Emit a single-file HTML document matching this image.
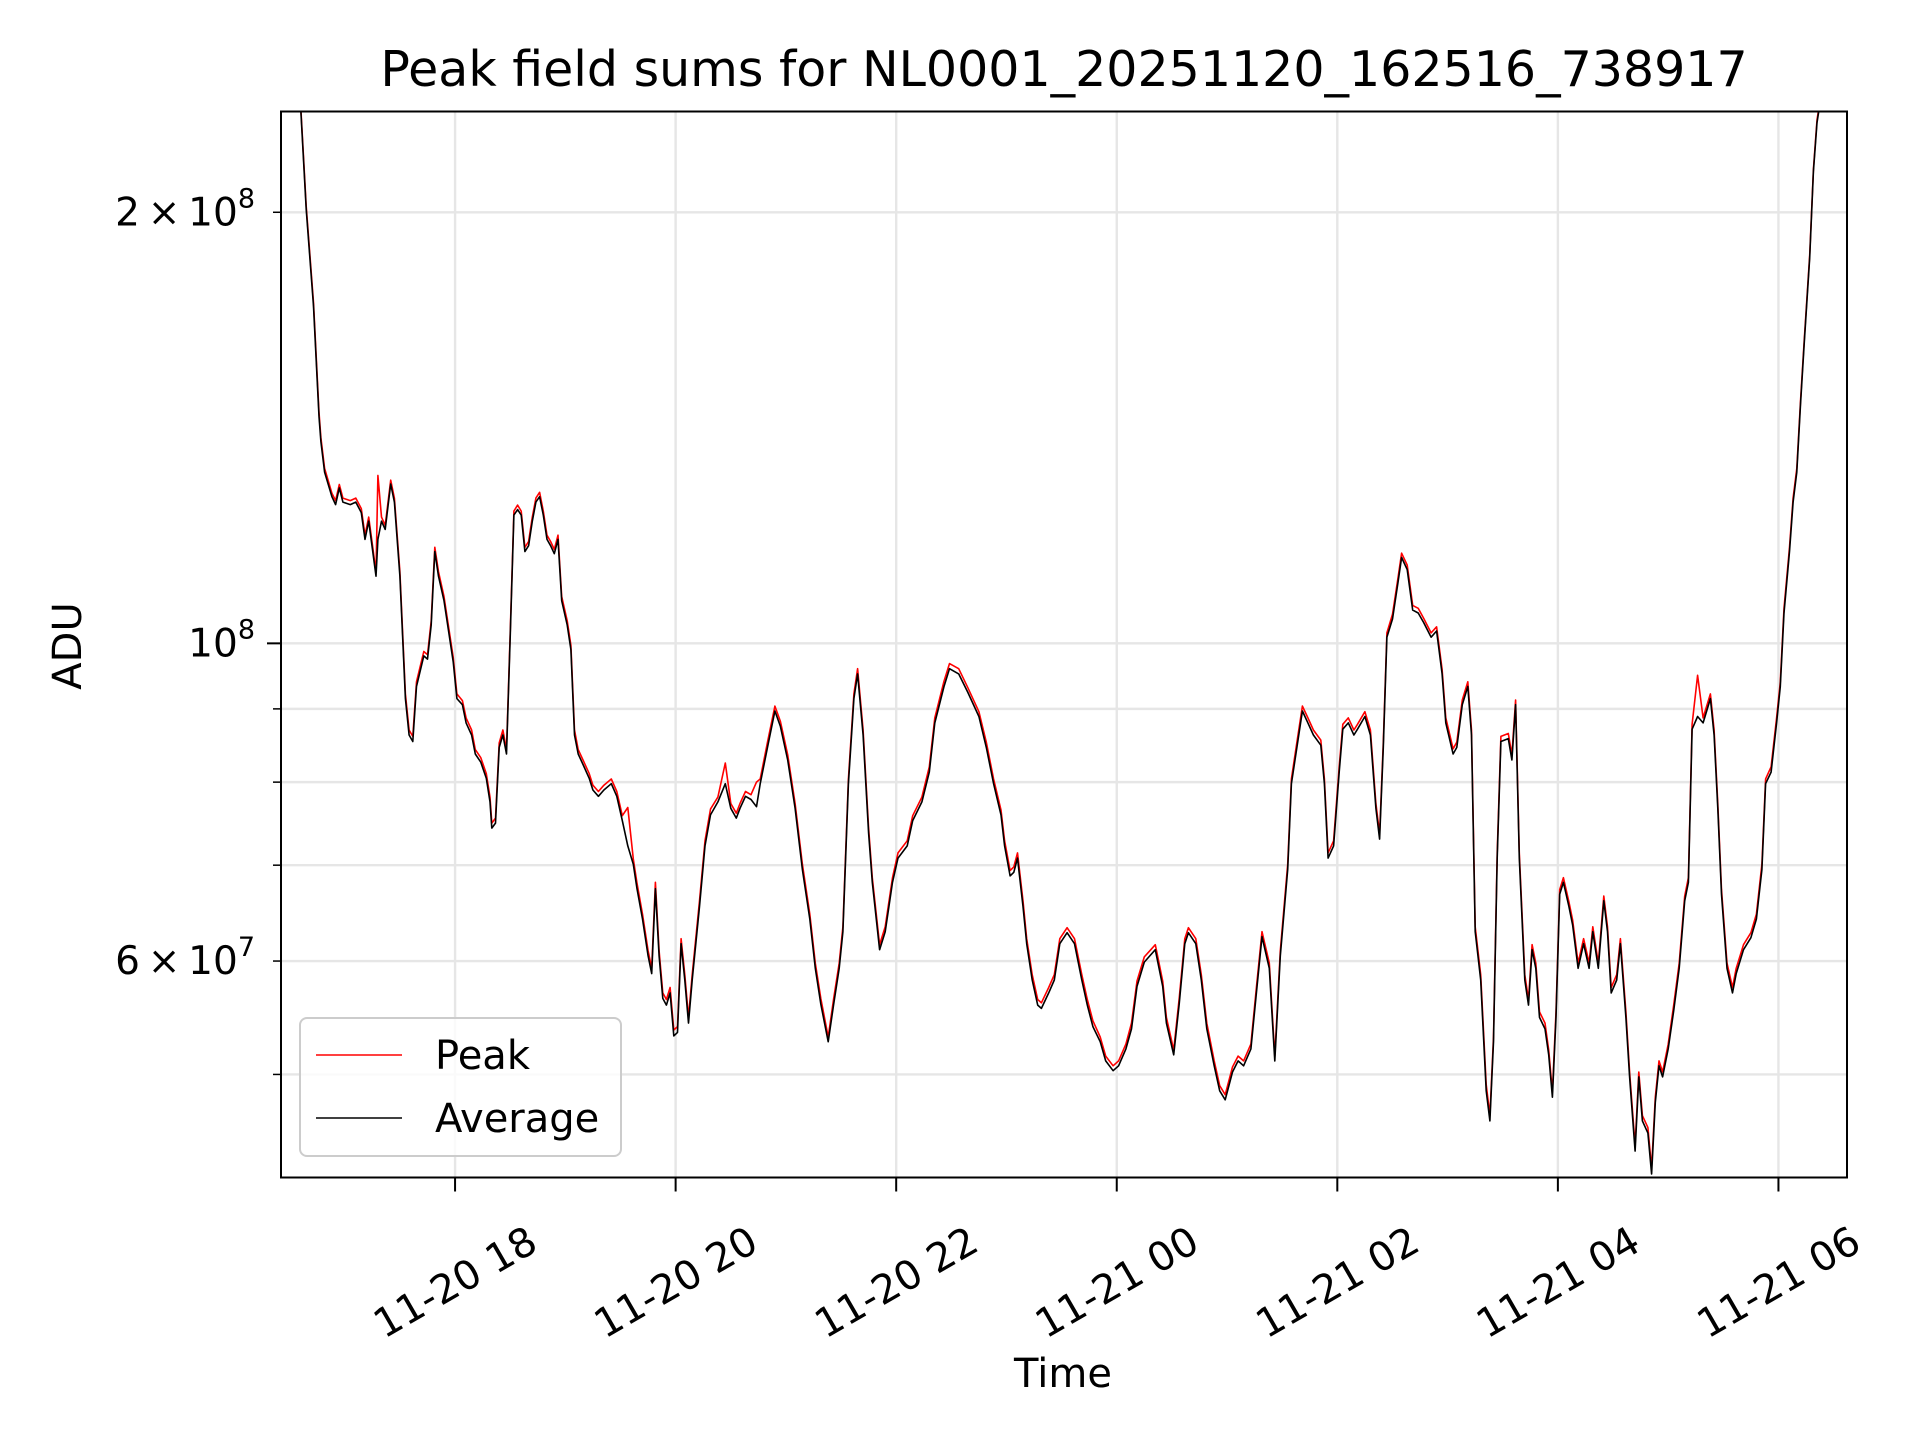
<!DOCTYPE html>
<html><head><meta charset="utf-8"><style>
html,body{margin:0;padding:0;background:#fff;}
svg{display:block;font-family:"DejaVu Sans","Liberation Sans",sans-serif;}
</style></head><body>
<svg id="chart" width="1920" height="1440" viewBox="0 0 1920 1440" xmlns="http://www.w3.org/2000/svg">
<rect x="0" y="0" width="1920" height="1440" fill="#fff"/>
<defs><clipPath id="plotclip"><rect x="281" y="111.5" width="1566" height="1066"/></clipPath></defs>
<g id="grid"></g>
<g id="series" clip-path="url(#plotclip)"></g>
<rect x="281" y="111.5" width="1566" height="1066" fill="none" stroke="#000" stroke-width="2"/>
<g id="ticks"></g>
<text x="1064" y="86" font-size="49" text-anchor="middle">Peak field sums for NL0001_20251120_162516_738917</text>
<text x="1063" y="1387" font-size="40" text-anchor="middle">Time</text>
<text x="0" y="0" font-size="40" text-anchor="middle" transform="translate(81,646) rotate(-90)">ADU</text>
<g>
<rect x="300" y="1018" width="321" height="138" rx="7" fill="#fff" fill-opacity="0.8" stroke="#ccc" stroke-width="2"/>
<line x1="316" y1="1055" x2="402" y2="1055" stroke="#ff0000" stroke-width="1.6"/>
<text x="435" y="1069" font-size="40">Peak</text>
<line x1="316" y1="1118" x2="402" y2="1118" stroke="#000" stroke-width="1.6"/>
<text x="435" y="1132" font-size="40">Average</text>
</g>
</svg>
<script>
// minutes since 11-20 16:00
const times = [25,35,39,43,46,47,49,53,55,57,59,63,66,69,71,73,75,77,78,80,82,85,87,90,93,95,97,99,103,105,107,109,111,114,117,119,121,124,126,129,131,134,137,139,140,142,144,146,148,150,152,154,156,158,160,162,164,166,168,170,172,174,176,178,181,183,185,187,190,193,195,198,201,205,208,211,214,217,219,222,225,227,229,231,233,235,237,239,241,243,245,247,249,253,256,259,263,267,270,273,275,278,281,284,286,290,294,297,301,305,309,313,316,319,323,326,329,331,334,337,339,342,345,347,351,354,358,361,366,369,374,378,381,386,389,394,399,405,409,413,417,419,422,424,426,429,431,434,437,439,443,446,449,453,457,461,464,467,471,474,478,481,485,488,491,495,498,501,505,507,511,514,517,519,523,526,529,533,536,539,543,546,549,553,556,559,563,566,569,573,575,578,581,584,587,591,593,595,598,601,603,606,609,611,615,618,621,623,625,627,630,633,635,638,641,644,647,651,654,657,659,663,665,668,671,673,675,678,681,683,685,687,689,693,695,697,699,702,704,706,708,710,713,715,717,719,721,723,726,728,731,734,737,739,742,745,747,749,752,754,757,759,762,764,766,769,771,773,775,777,780,783,786,789,791,793,796,799,803,805,807,809,812,815,817,821,825,828,831,833,836,839,841,843,846,848,850,852,854,857,859,861,863,877];
// Average, millions of ADU
const averageM = [260,250,201,172,144,138.3,131.7,126.6,125.0,128.4,125.5,125.0,125.5,123.4,118.2,121.7,116.4,111.4,118.2,121.7,120.1,129.2,125.5,111.4,91.5,86.3,85.4,93.3,98.0,97.5,103.0,115.9,111.4,107.1,101.0,97.1,91.5,90.6,88.0,86.3,83.7,82.6,80.5,77.5,74.3,74.9,84.6,86.3,83.7,101.0,122.9,124.0,122.9,115.9,117.0,121.7,125.5,126.6,122.9,118.2,117.0,115.5,118.2,107.1,103.0,99.0,86.3,83.7,82.1,80.5,79.0,78.2,79.0,79.8,78.2,75.2,72.2,70.1,67.4,64.2,60.5,58.8,67.4,60.5,56.5,55.9,57.0,53.2,53.5,61.7,58.2,54.3,58.2,65.5,72.2,75.9,77.5,79.8,76.7,75.5,76.7,78.2,77.8,76.9,79.8,84.6,89.7,87.5,82.9,76.7,69.5,64.2,59.3,56.0,52.7,56.0,59.3,62.9,79.8,91.5,95.2,86.3,73.7,68.1,61.1,62.9,68.1,70.8,72.2,75.2,77.5,81.3,88.0,93.3,96.0,95.2,92.4,88.9,84.6,79.8,75.9,72.2,68.8,69.2,70.8,65.5,61.7,58.2,55.9,55.6,57.0,58.2,61.7,62.8,61.7,58.2,55.9,54.0,52.7,51.1,50.3,50.7,52.1,53.8,57.6,59.9,60.5,61.1,57.6,54.3,51.6,56.0,61.7,62.8,61.7,58.2,53.8,50.7,48.7,48.0,50.2,51.1,50.7,52.1,57.0,62.4,59.3,51.1,60.5,69.5,79.8,84.6,89.7,88.0,86.3,84.9,79.8,70.8,72.2,81.3,87.1,88.0,86.3,87.1,88.9,86.3,76.7,73.0,84.6,101.0,104.0,110.3,114.8,112.6,105.5,105.0,103.4,101.0,102.0,95.2,88.0,83.7,84.6,90.6,93.3,86.3,62.9,58.2,48.7,46.4,52.7,70.8,85.4,85.8,82.9,90.6,70.8,58.2,55.9,61.1,59.3,54.8,53.8,51.6,48.2,54.8,66.8,68.1,65.5,63.6,59.3,61.7,59.3,62.9,59.3,66.1,62.9,57.0,58.2,61.7,54.8,49.8,44.2,49.8,46.4,45.5,42.6,47.8,50.7,49.8,52.1,55.4,59.3,66.1,68.1,87.1,88.9,88.0,91.5,86.3,76.7,66.8,59.3,57.0,58.8,61.1,62.3,64.2,69.5,79.8,81.3,88.0,93.3,105.0,115.9,125.5,131.7,146.8,161.9,185.9,213.5,231,240,260];
// Peak, millions of ADU
const peakM = [261,251,202,173,145,139.2,132.5,127.3,125.8,129.1,126.3,125.8,126.3,124.2,119.0,122.5,117.2,112.1,131.0,122.5,120.9,130.0,126.3,112.2,92.2,87.0,86.1,94.0,98.7,98.2,103.7,116.7,112.2,107.8,101.7,97.8,92.2,91.2,88.7,87.0,84.3,83.2,81.1,78.1,74.9,75.5,85.2,87.0,84.3,101.7,123.7,124.9,123.7,116.7,117.8,122.5,126.3,127.5,123.7,119.0,117.8,116.3,119.0,107.8,103.7,99.7,87.0,84.3,82.7,81.1,79.6,78.8,79.6,80.4,78.8,75.8,76.8,70.7,68.0,64.7,61.0,59.3,68.1,61.0,57.0,56.4,57.5,53.7,54.0,62.2,58.7,54.8,58.7,66.1,72.8,76.6,78.1,82.5,77.3,76.1,77.3,78.8,78.4,80.0,80.4,85.3,90.4,88.2,83.6,77.3,70.1,64.7,59.8,56.5,53.1,56.5,59.8,63.4,80.4,92.2,96.0,87.0,74.3,68.6,61.6,63.4,68.6,71.4,72.8,75.8,78.1,82.0,88.7,94.1,96.8,96.0,93.1,89.6,85.3,80.4,76.5,72.8,69.4,69.8,71.4,66.1,62.2,58.7,56.4,56.1,57.5,58.7,62.2,63.3,62.2,58.7,56.4,54.5,53.1,51.5,50.7,51.1,52.5,54.3,58.1,60.4,61.0,61.6,58.1,54.8,52.0,56.5,62.2,63.3,62.2,58.7,54.3,51.1,49.1,48.4,50.6,51.5,51.1,52.5,57.5,62.9,59.8,51.5,61.0,70.1,80.4,85.3,90.4,88.7,87.0,85.6,80.4,71.4,72.8,82.0,87.8,88.7,87.0,87.8,89.6,87.0,77.3,73.6,85.3,101.7,104.8,111.1,115.6,113.4,106.3,105.8,104.1,101.7,102.7,95.9,88.7,84.4,85.3,91.3,94.0,87.0,63.4,58.7,49.2,46.8,53.1,71.4,86.1,86.5,83.6,91.3,71.4,58.7,56.4,61.6,59.8,55.3,54.3,52.0,48.6,55.3,67.3,68.6,66.0,64.1,59.8,62.2,59.8,63.4,59.8,66.6,63.4,57.5,58.7,62.2,55.3,50.2,44.6,50.2,46.8,45.9,43.0,48.2,51.1,50.2,52.5,55.9,59.8,66.6,68.6,87.8,95.0,88.7,92.2,87.0,77.3,67.3,59.8,57.5,59.3,61.6,62.8,64.7,70.1,80.4,82.0,88.7,94.0,105.8,116.7,126.3,132.5,147.6,162.7,186.7,214.2,232,241,261];
const xTickMinutes = [120,240,360,480,600,720,840];
const xTickLabels = ["11-20 18","11-20 20","11-20 22","11-21 00","11-21 02","11-21 04","11-21 06"];
const yMinorTicks = [5e7,6e7,7e7,8e7,9e7,2e8];
const yLabelTicks = [2e8,1e8,6e7];
const yLabelMant = ["2","","6"];
const yLabelExp = ["8","8","7"];

const NS = "http://www.w3.org/2000/svg";
const X0 = 281, X1 = 1847, Y0 = 111.5, Y1 = 1177.5;
const xMin = 25.3, xMax = 877.3;
const logTop = 8.3714, logBot = 7.6270;
function xs(m){ return X0 + (m - xMin) / (xMax - xMin) * (X1 - X0); }
function ys(v){ return Y1 - (Math.log10(v) - logBot) / (logTop - logBot) * (Y1 - Y0); }
function mk(tag, attrs, parent){ const e = document.createElementNS(NS, tag); for (const k in attrs) e.setAttribute(k, attrs[k]); parent.appendChild(e); return e; }

const grid = document.getElementById('grid');
const ticks = document.getElementById('ticks');
const series = document.getElementById('series');

yMinorTicks.concat([1e8]).forEach(v => {
  const y = ys(v);
  const g = mk('line', {x1:X0, x2:X1, y1:y, y2:y, stroke:'#e6e6e6', 'stroke-width':2.4}, grid);
  
  
  const isMajor = v === 1e8;
  const t = mk('line', {x1:X0 - (isMajor ? 14 : 8), x2:X0, y1:y, y2:y, stroke:'#000', 'stroke-width':isMajor ? 2 : 1.5}, ticks);
  
  
});
yLabelTicks.forEach((v, i) => {
  const y = ys(v);
  const tx = mk('text', {x:255, y:y + 13, 'font-size':39, 'text-anchor':'end'}, ticks);
  
  
  let s = '';
  if (yLabelMant[i]) s = yLabelMant[i] + '\u2009\u00d7\u200910';
  else s = '10';
  const a = document.createElementNS(NS, 'tspan'); a.textContent = s; tx.appendChild(a);
  const b = document.createElementNS(NS, 'tspan'); b.setAttribute('font-size', '27'); b.setAttribute('dy', '-18'); b.textContent = yLabelExp[i]; tx.appendChild(b);
});
xTickMinutes.forEach((m, i) => {
  const x = xs(m);
  const g = mk('line', {x1:x, x2:x, y1:Y0, y2:Y1, stroke:'#e6e6e6', 'stroke-width':2.4}, grid);
  
  
  const t = mk('line', {x1:x, x2:x, y1:Y1, y2:Y1 + 14, stroke:'#000', 'stroke-width':2}, ticks);
  
  
  const tx = mk('text', {x:0, y:14, 'font-size':40, 'text-anchor':'middle', transform:'translate(' + x + ',1282) rotate(-30)'}, ticks);
  
  
  tx.textContent = xTickLabels[i];
});
function pathFor(vals){ return vals.map((v, i) => (i ? 'L' : 'M') + xs(times[i]).toFixed(1) + ',' + ys(v * 1e6).toFixed(1)).join(''); }
const p1 = mk('path', {d:pathFor(peakM), fill:'none', stroke:'#ff0000', 'stroke-width':1.6, 'stroke-linejoin':'round'}, series);


const p2 = mk('path', {d:pathFor(averageM), fill:'none', stroke:'#000', 'stroke-width':1.6, 'stroke-linejoin':'round'}, series);


</script>
</body></html>
